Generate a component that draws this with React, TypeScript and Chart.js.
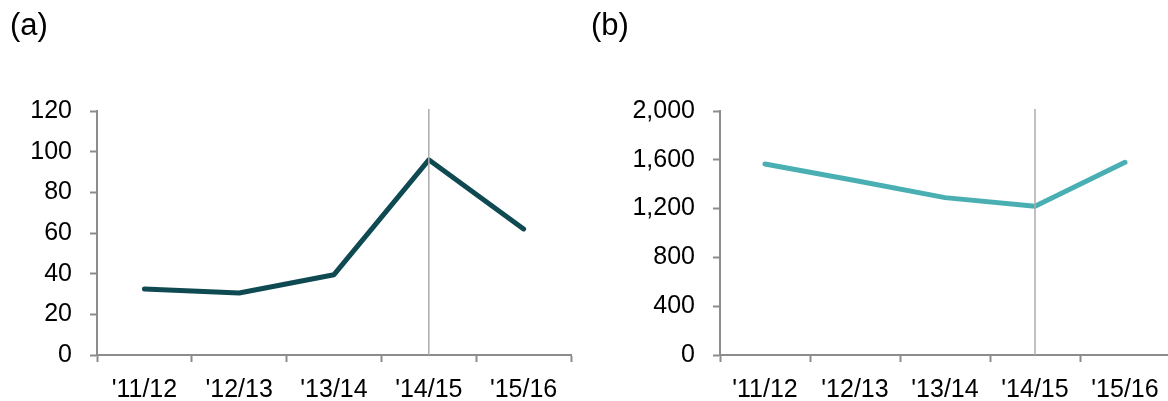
import React, { useEffect, useRef } from "react";
import { Chart, registerables } from "chart.js";

Chart.register(...registerables);

const categories = ["'11/12", "'12/13", "'13/14", "'14/15", "'15/16"];
const seriesA = [32.5, 30.5, 39.5, 96, 62];
const seriesB = [1565, 1430, 1290, 1220, 1580];
const ticksA = { min: 0, max: 120, step: 20 };
const ticksB = { min: 0, max: 2000, step: 400 };
const markerIndex = 3;

const FONT = "'Liberation Sans', Arial, Helvetica, sans-serif";

const markerPlugin = {
  id: "marker",
  afterDatasetsDraw(chart: any) {
    const x = chart.scales.x.getPixelForValue(markerIndex);
    const { top, bottom } = chart.chartArea;
    const ctx = chart.ctx;
    ctx.save();
    ctx.strokeStyle = "#acacac";
    ctx.lineWidth = 1.5;
    ctx.beginPath();
    ctx.moveTo(x, top - 2);
    ctx.lineTo(x, bottom);
    ctx.stroke();
    ctx.restore();
  },
};

function makeConfig(
  data: number[],
  color: string,
  range: { min: number; max: number; step: number },
  yWidth: number,
  padRight: number,
  fmt: (v: number) => string
): any {
  return {
    type: "line",
    data: {
      labels: categories,
      datasets: [
        {
          data,
          borderColor: color,
          borderWidth: 5,
          borderCapStyle: "round",
          borderJoinStyle: "round",
          pointRadius: 0,
          tension: 0,
          fill: false,
        },
      ],
    },
    plugins: [markerPlugin],
    options: {
      animation: false,
      responsive: false,
      maintainAspectRatio: false,
      devicePixelRatio: 1,
      layout: { padding: { top: 111, left: 0, right: padRight, bottom: 0 } },
      plugins: { legend: { display: false }, tooltip: { enabled: false }, title: { display: false } },
      scales: {
        x: {
          type: "category",
          offset: true,
          grid: {
            display: true,
            drawOnChartArea: false,
            drawTicks: true,
            tickLength: 7,
            tickWidth: 2,
            tickColor: "#8c8c8c",
            offset: true,
          },
          border: { display: true, color: "#8c8c8c", width: 2 },
          ticks: {
            color: "#000",
            font: { family: FONT, size: 25 },
            padding: 13,
            maxRotation: 0,
            autoSkip: false,
          },
          afterFit(scale: any) {
            scale.height = 46;
          },
        },
        y: {
          min: range.min,
          max: range.max,
          grid: {
            display: true,
            drawOnChartArea: false,
            drawTicks: true,
            tickLength: 7,
            tickWidth: 2,
            tickColor: "#8c8c8c",
          },
          border: { display: true, color: "#8c8c8c", width: 2 },
          ticks: {
            stepSize: range.step,
            color: "#000",
            font: { family: FONT, size: 25 },
            padding: 18,
            callback: (v: any) => fmt(Number(v)),
          },
          afterFit(scale: any) {
            scale.width = yWidth;
          },
        },
      },
    },
  };
}

function LineChart(props: {
  data: number[];
  color: string;
  range: { min: number; max: number; step: number };
  left: number;
  width: number;
  yWidth: number;
  padRight: number;
  fmt: (v: number) => string;
}) {
  const ref = useRef<HTMLCanvasElement | null>(null);
  useEffect(() => {
    if (!ref.current) return;
    const chart = new Chart(
      ref.current,
      makeConfig(props.data, props.color, props.range, props.yWidth, props.padRight, props.fmt)
    );
    return () => chart.destroy();
  }, []);
  return (
    <div style={{ position: "absolute", left: props.left, top: 0, width: props.width, height: 401 }}>
      <canvas ref={ref} width={props.width} height={401} style={{ display: "block" }} />
    </div>
  );
}

const labelStyle: React.CSSProperties = {
  position: "absolute",
  top: 8,
  fontFamily: FONT,
  fontSize: 31,
  lineHeight: "34px",
  color: "#000",
  whiteSpace: "nowrap",
};

export default function App() {
  useEffect(() => {
    document.body.style.margin = "0";
  }, []);
  return (
    <div style={{ position: "relative", width: 1168, height: 401, overflow: "hidden", background: "#fff" }}>
      <LineChart
        data={seriesA}
        color="#0f4a53"
        range={ticksA}
        left={0}
        width={585}
        yWidth={97}
        padRight={14}
        fmt={(v) => String(v)}
      />
      <LineChart
        data={seriesB}
        color="#4aafb3"
        range={ticksB}
        left={600}
        width={580}
        yWidth={120}
        padRight={10}
        fmt={(v) => v.toLocaleString("en-US")}
      />
      <div style={{ ...labelStyle, left: 10 }}>(a)</div>
      <div style={{ ...labelStyle, left: 591 }}>(b)</div>
    </div>
  );
}
